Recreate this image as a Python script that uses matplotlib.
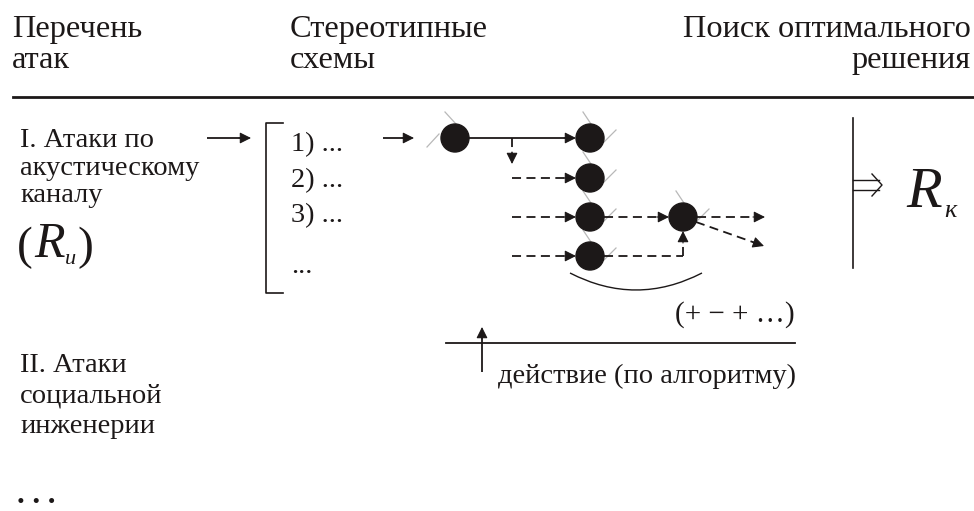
import matplotlib
import matplotlib.pyplot as plt
import numpy as np
from matplotlib.patches import FancyArrowPatch, PathPatch, Circle
from matplotlib.path import Path

matplotlib.use('Agg')
plt.rcParams['font.family'] = ['Liberation Serif', 'DejaVu Serif']

INK = '#1c1818'
GRAY = '#b8b8b8'
W, H = 974, 511

# header columns: (x, ha, line1, line2)
headers = [(12, 'left', 'Перечень', 'атак'),
           (290, 'left', 'Стереотипные', 'схемы'),
           (971, 'right', 'Поиск оптимального', 'решения')]
header_baselines = [37, 68]

group1_lines = ['I. Атаки по', 'акустическому', 'каналу']
group1_baselines = [147, 175, 202]
group2_lines = ['II. Атаки', 'социальной', 'инженерии']
group2_baselines = [372, 402, 433]

schemes = ['1) ...', '2) ...', '3) ...', '...']
scheme_baselines = [151, 187, 222, 273]

# nodes of the search graph (pixel coords)
nodes = [(455, 138), (590, 138), (590, 178), (590, 217), (590, 256), (683, 217)]

# arrows: (x0, y0, x1, y1, dashed)
arrows = [(207, 138, 251, 138, False),
          (383, 138, 414, 138, False),
          (469, 138, 576, 138, False),
          (512, 138, 512, 164, True),
          (512, 178, 576, 178, True),
          (512, 217, 576, 217, True),
          (512, 256, 576, 256, True),
          (604, 217, 669, 217, True),
          (697, 217, 765, 217, True),
          (696, 222, 764, 246, True),
          (683, 256, 683, 231, True),
          (482, 372, 482, 327, False)]


def arrow(ax, x0, y0, x1, y1, dashed=False):
    d = np.array([x1 - x0, y1 - y0], dtype=float)
    d /= np.hypot(*d)
    ls = (0, (5, 3)) if dashed else '-'
    ax.plot([x0, x1 - d[0] * 4], [y0, y1 - d[1] * 4], color=INK, lw=1.3,
            linestyle=ls, solid_capstyle='butt')
    head = FancyArrowPatch((x1 - d[0] * 12, y1 - d[1] * 12), (x1, y1),
                           arrowstyle='-|>', mutation_scale=17, color=INK,
                           lw=0.8, shrinkA=0, shrinkB=0)
    ax.add_patch(head)


fig = plt.figure(figsize=(W / 100, H / 100), dpi=100)
ax = fig.add_axes([0, 0, 1, 1])
ax.set_xlim(0, W)
ax.set_ylim(H, 0)
ax.axis('off')

# header
for x, ha, l1, l2 in headers:
    ax.text(x, header_baselines[0], l1, ha=ha, va='baseline', fontsize=23.3, color=INK)
    ax.text(x, header_baselines[1], l2, ha=ha, va='baseline', fontsize=23.3, color=INK)
ax.plot([13, W], [97, 97], color=INK, lw=2.0)

# left column
for t, y in zip(group1_lines, group1_baselines):
    ax.text(20, y, t, va='baseline', fontsize=20.5, color=INK)
for t, y in zip(group2_lines, group2_baselines):
    ax.text(20, y, t, va='baseline', fontsize=20.5, color=INK)
ax.text(17, 259, '(', va='baseline', fontsize=34, color=INK)
ax.text(34, 257, 'R', va='baseline', fontsize=36, style='italic', color=INK)
ax.text(65, 264, 'и', va='baseline', fontsize=16, style='italic', color=INK)
ax.text(77, 259, ')', va='baseline', fontsize=34, color=INK)
ax.text(17, 510, '. . .', va='bottom', fontsize=22, fontweight='bold', color=INK)

# bracket with schemes
ax.plot([283, 266, 266, 283], [123, 123, 293, 293], color=INK, lw=1.2)
for t, y in zip(schemes, scheme_baselines):
    ax.text(291, y, t, va='baseline', fontsize=20.5, color=INK)

# graph
for i, (cx, cy) in enumerate(nodes):
    if i == 0:
        segs = [((-10, -26), (1, -14)), ((-28, 9), (-16, -4))]
    else:
        segs = [((-7, -26), (1, -14)), ((14, 4), (26, -8))]
    for (a, b), (c, d) in segs:
        ax.plot([cx + a, cx + c], [cy + b, cy + d], color=GRAY, lw=0.9, zorder=1)
    ax.add_patch(Circle((cx, cy), 14, color=INK, zorder=3))

ax.plot([604, 683], [256, 256], color=INK, lw=1.3, linestyle=(0, (5, 3)))
for x0, y0, x1, y1, dashed in arrows:
    arrow(ax, x0, y0, x1, y1, dashed)

# arc under the column
arc = Path([(570, 273), (636, 307), (702, 273)], [Path.MOVETO, Path.CURVE3, Path.CURVE3])
ax.add_patch(PathPatch(arc, fill=False, color=INK, lw=1.0))
ax.text(735, 322, '(+ − + …)', ha='center', va='baseline', fontsize=21, color=INK)

# action line
ax.plot([446, 795], [343, 343], color=INK, lw=1.3)
ax.text(498, 383, 'действие (по алгоритму)', va='baseline', fontsize=20.5, color=INK)

# result
ax.plot([853, 853], [118, 268], color=INK, lw=1.2)
ax.plot([853, 879], [180, 180], color=INK, lw=1.0)
ax.plot([853, 879], [190, 190], color=INK, lw=1.0)
ax.plot([872, 882, 872], [174, 185, 196], color=INK, lw=1.0)
ax.text(906, 207, 'R', va='baseline', fontsize=42, style='italic', color=INK)
ax.text(944, 217, 'к', va='baseline', fontsize=19, style='italic', color=INK)

fig.savefig('out.png', dpi=100)
